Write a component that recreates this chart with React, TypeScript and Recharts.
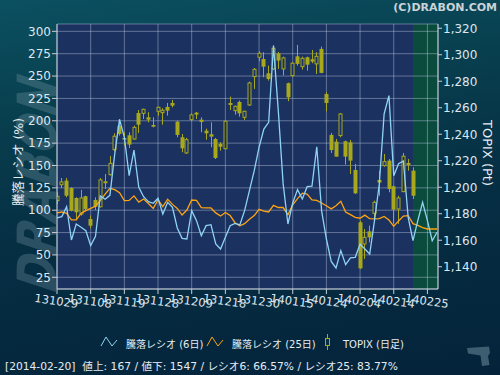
import React from 'react';
import { ComposedChart, XAxis, YAxis, CartesianGrid, Line, Bar } from 'recharts';

// trading days (YYMMDD), index = x position
const dates = [
  '131029','131030','131031','131101','131105','131106','131107','131108','131111','131112',
  '131113','131114','131115','131118','131119','131120','131121','131122','131125','131126',
  '131127','131128','131129','131202','131203','131204','131205','131206','131209','131210',
  '131211','131212','131213','131216','131217','131218','131219','131220','131224','131225',
  '131226','131227','131230','140106','140107','140108','140109','140110','140114','140115',
  '140116','140117','140120','140121','140122','140123','140124','140127','140128','140129',
  '140130','140131','140203','140204','140205','140206','140207','140210','140212','140213',
  '140214','140217','140218','140219','140220','140221','140224','140225','140226','140227',
];

// 騰落レシオ (6日) %
const ratio6 = [
  91.3, 92.8, 104.0, 66.7, 84.6, 80.9, 77.1, 60.4, 70.8, 115.9,
  112.2, 116.6, 162.8, 201.6, 181.5, 138.6, 167.3, 125.6, 115.1, 109.5,
  107.7, 113.3, 95.8, 108.8, 103.2, 80.1, 68.5, 67.8, 99.5, 88.3,
  71.5, 82.7, 83.8, 62.2, 56.6, 69.7, 82.7, 85.3, 83.5, 99.5,
  121.8, 144.2, 170.3, 190.8, 198.3, 284.0, 211.3, 130.0, 84.6, 108.0,
  123.0, 112.5, 126.3, 127.0, 171.0, 99.5, 67.8, 42.8, 35.4, 54.8,
  39.1, 46.6, 47.3, 62.0, 56.6, 51.0, 88.3, 129.3, 207.6, 228.1,
  138.6, 152.0, 155.0, 92.0, 65.9, 88.3, 108.8, 88.3, 65.9, 75.3,
];

// 騰落レシオ (25日) %
const ratio25 = [
  97.0, 98.0, 96.5, 89.1, 89.1, 96.5, 99.5, 102.0, 104.5, 111.0,
  118.0, 124.5, 123.0, 119.5, 110.7, 111.0, 116.0, 109.0, 112.5, 107.5,
  102.0, 111.5, 104.0, 112.3, 106.5, 102.0, 94.6, 100.2, 111.4, 111.0,
  103.0, 102.5, 102.5, 97.0, 93.5, 97.5, 94.0, 86.0, 82.5, 85.0,
  90.0, 94.0, 101.0, 99.0, 98.0, 105.5, 103.0, 103.0, 95.0, 106.0,
  113.0, 119.0, 118.0, 111.5, 111.0, 108.0, 105.0, 101.5, 105.0, 110.0,
  98.0, 95.0, 92.0, 91.0, 94.5, 90.5, 90.2, 90.5, 93.0, 89.0,
  82.0, 88.0, 93.5, 94.0, 85.0, 83.0, 80.5, 79.0, 79.0, 79.0,
];

// TOPIX (日足)
const topixOpen = [
  1189.9, 1201.9, 1205.0, 1199.4, 1191.9, 1179.8, 1193.2, 1176.0, 1190.4, 1185.3,
  1204.5, 1209.5, 1228.4, 1246.2, 1237.2, 1239.2, 1236.4, 1256.0, 1255.8, 1252.8,
  1247.0, 1257.3, 1256.3, 1260.6, 1263.6, 1249.5, 1237.7, 1225.9, 1251.0, 1256.3,
  1251.0, 1242.7, 1240.0, 1236.4, 1232.7, 1229.1, 1263.6, 1257.8, 1264.4, 1252.8,
  1262.1, 1283.5, 1298.1, 1296.8, 1286.0, 1289.3, 1301.1, 1289.3, 1278.5, 1284.3,
  1298.8, 1291.0, 1298.1, 1296.6, 1293.1, 1304.4, 1270.4, 1239.5, 1234.4, 1239.0,
  1234.7, 1233.9, 1213.0, 1173.5, 1157.2, 1166.7, 1180.3, 1205.5, 1216.3, 1220.1,
  1200.7, 1183.6, 1196.7, 1218.3, 1212.5,
];
const topixHigh = [
  1196.2, 1207.0, 1207.0, 1200.0, 1192.4, 1198.0, 1193.6, 1178.6, 1192.4, 1207.0,
  1210.0, 1223.6, 1240.7, 1251.3, 1241.5, 1241.5, 1246.5, 1258.3, 1259.3, 1256.6,
  1252.8, 1260.8, 1259.6, 1263.6, 1265.9, 1250.3, 1240.2, 1237.2, 1255.8, 1256.8,
  1252.8, 1244.2, 1249.0, 1237.2, 1233.9, 1250.3, 1268.4, 1261.6, 1265.4, 1257.8,
  1279.7, 1290.0, 1302.6, 1301.9, 1291.8, 1306.9, 1302.1, 1298.6, 1279.0, 1294.3,
  1307.4, 1298.6, 1298.6, 1303.6, 1301.9, 1306.1, 1271.7, 1241.0, 1236.4, 1256.0,
  1235.2, 1235.7, 1217.6, 1174.8, 1168.5, 1171.0, 1189.9, 1212.5, 1225.1, 1221.3,
  1201.2, 1193.6, 1225.9, 1221.3, 1215.0,
];
const topixLow = [
  1187.4, 1199.4, 1192.4, 1181.8, 1175.3, 1178.6, 1182.3, 1169.2, 1182.8, 1184.8,
  1198.7, 1208.8, 1227.1, 1239.0, 1231.4, 1229.6, 1235.7, 1241.0, 1251.5, 1249.0,
  1245.2, 1254.0, 1247.2, 1254.0, 1260.3, 1237.7, 1226.4, 1225.1, 1249.8, 1251.5,
  1241.5, 1235.9, 1230.2, 1221.3, 1227.6, 1228.6, 1258.3, 1254.8, 1253.3, 1250.8,
  1261.3, 1274.2, 1295.1, 1283.0, 1280.5, 1288.5, 1289.3, 1284.3, 1264.9, 1283.5,
  1291.8, 1288.8, 1288.0, 1293.6, 1285.5, 1286.0, 1257.3, 1225.9, 1223.1, 1237.7,
  1217.1, 1210.0, 1194.9, 1138.3, 1145.9, 1158.4, 1174.8, 1193.6, 1215.5, 1196.2,
  1172.3, 1172.3, 1196.2, 1212.5, 1191.1,
];
const topixClose = [
  1193.2, 1204.0, 1193.6, 1182.3, 1181.1, 1191.9, 1183.6, 1171.0, 1185.3, 1205.5,
  1203.0, 1218.0, 1238.5, 1240.2, 1235.9, 1232.2, 1245.2, 1247.2, 1258.8, 1251.0,
  1245.7, 1260.3, 1258.1, 1257.8, 1261.6, 1239.5, 1229.4, 1235.9, 1254.6, 1254.8,
  1249.3, 1240.7, 1238.2, 1222.1, 1230.6, 1249.8, 1262.1, 1261.1, 1255.8, 1257.3,
  1278.7, 1289.0, 1301.1, 1291.0, 1281.7, 1304.9, 1295.6, 1297.6, 1267.9, 1293.6,
  1293.1, 1297.3, 1292.5, 1294.8, 1298.8, 1286.3, 1263.6, 1228.1, 1223.1, 1255.3,
  1223.1, 1220.1, 1195.4, 1138.8, 1162.2, 1162.2, 1188.6, 1203.5, 1219.3, 1198.7,
  1183.1, 1191.9, 1223.4, 1216.8, 1193.6,
];

const leftTicks = [25, 50, 75, 100, 125, 150, 175, 200, 225, 250, 275, 300];
const rightTicks = [1140, 1160, 1180, 1200, 1220, 1240, 1260, 1280, 1300, 1320];
const xTicks = [0, 7, 14, 21, 28, 35, 42, 49, 56, 63, 70, 77];
const lastCandle = topixOpen.length - 1;
const X_MAX = 79.2;

const data = dates.map((d, i) => ({
  i,
  d,
  r6: ratio6[i],
  r25: ratio25[i],
  o: topixOpen[i],
  h: topixHigh[i],
  l: topixLow[i],
  c: topixClose[i],
  range: i <= lastCandle ? [topixLow[i], topixHigh[i]] : null,
}));

const FONT = '"DejaVu Sans", "Noto Sans CJK JP", sans-serif';
const CANDLE = '#a8a81c';
const BLUE = '#8fd3f5';
const ORANGE = '#ffa30f';
const GRID = 'rgba(200,210,230,0.42)';
const PLOT_BG = '#1b3160';
const GREEN_BG = '#0a4b3d';

const Candle = (props: any) => {
  const { x, y, width, height, payload } = props;
  if (!payload || payload.o == null || x == null) return null;
  const top = Math.min(y, y + height);
  const bot = Math.max(y, y + height);
  const span = payload.h - payload.l;
  const k = span > 0 ? (bot - top) / span : 0;
  const yO = top + (payload.h - payload.o) * k;
  const yC = top + (payload.h - payload.c) * k;
  const cx = Math.round(x + width / 2) + 0.5;
  const bTop = Math.min(yO, yC);
  const bH = Math.max(Math.abs(yO - yC), 1.5);
  const up = payload.c > payload.o;
  return (
    <g>
      <line x1={cx} x2={cx} y1={top} y2={bot} stroke={CANDLE} strokeWidth={1} />
      {up ? (
        <rect x={cx - 1.5} y={bTop} width={3} height={bH} fill={PLOT_BG} stroke={CANDLE} strokeWidth={1} />
      ) : (
        <rect x={cx - 2} y={bTop} width={4} height={bH} fill={CANDLE} />
      )}
    </g>
  );
};

const XTick = (props: any) => {
  const { x, y, payload } = props;
  const label = dates[payload.value] ?? '';
  return (
    <g transform={`translate(${x},${y})`}>
      <text x={0} y={0} dy={9} transform="rotate(8)" textAnchor="middle" fill="#dfe6ee" fontSize={11.5} fontFamily={FONT}>
        {label}
      </text>
    </g>
  );
};

const fmt = (v: number) => v.toLocaleString('en-US');

// map an index on the x axis to a pixel, via the axis scale when available
const toPx = (p: any, v: number): number => {
  try {
    const s = p?.xAxis?.scale;
    if (typeof s === 'function') {
      const r = s(v);
      if (Number.isFinite(r)) return r;
    }
    if (s && typeof s.map === 'function') {
      const r = s.map(v);
      if (Number.isFinite(r)) return r;
    }
  } catch (e) {
    /* fall through */
  }
  const o = p?.offset;
  const left = o && Number.isFinite(o.left) ? o.left : 57;
  const w = o && Number.isFinite(o.width) ? o.width : 381;
  return left + (w * v) / X_MAX;
};

// background stripes: plot colour up to the last candle, green after it
const bandGenerator = (p: any) => [Math.round(toPx(p, 0)), Math.round(toPx(p, lastCandle))];

export default function App() {
  return (
    <div
      style={{
        position: 'absolute',
        left: 0,
        top: 0,
        width: 500,
        height: 375,
        overflow: 'hidden',
        background: 'linear-gradient(172deg, #0b5061 0%, #08404f 25%, #062f44 55%, #04233a 100%)',
        fontFamily: FONT,
      }}
    >
      <div style={{ position: 'absolute', right: 3, top: 1, color: '#c9d3d8', fontSize: 11, fontWeight: 'bold' }}>
        (C)DRABON.COM
      </div>
      <div
        style={{
          position: 'absolute',
          left: 38,
          top: 183,
          transform: 'translate(-50%,-50%) rotate(-90deg) scale(0.82,1) skewX(-12deg)',
          color: 'rgba(130,160,172,0.3)',
          fontSize: 54,
          fontWeight: 'bold',
          fontStyle: 'italic',
          whiteSpace: 'nowrap',
          fontFamily: '"DejaVu Sans"',
          lineHeight: 1,
        }}
      >
        DRABON
      </div>
      <svg style={{ position: 'absolute', left: 0, top: 0 }} width={500} height={375}>
        <path d="M467,348 L489,346.5 L490,353 L488,356 L489.5,365 L482,366 L480.5,355.5 L468,353.5 Z" fill="rgba(110,140,158,0.55)" />
      </svg>
      <div
        style={{
          position: 'absolute',
          left: 17,
          top: 162,
          transform: 'translate(-50%,-50%) rotate(-90deg)',
          color: '#e6ecf2',
          fontSize: 12.5,
          whiteSpace: 'nowrap',
        }}
      >
        騰落レシオ (%)
      </div>
      <div
        style={{
          position: 'absolute',
          left: 487,
          top: 153,
          transform: 'translate(-50%,-50%) rotate(90deg)',
          color: '#e6ecf2',
          fontSize: 13,
          whiteSpace: 'nowrap',
        }}
      >
        TOPIX (Pt)
      </div>
      <ComposedChart width={500} height={375} data={data} margin={{ top: 24, right: 0, bottom: 56, left: 0 }} style={{ position: 'absolute', left: 0, top: 0 }}>
        <CartesianGrid
          yAxisId="left"
          horizontal={false}
          vertical
          stroke="none"
          strokeOpacity={0}
          verticalFill={[PLOT_BG, GREEN_BG]}
          fillOpacity={1}
          verticalCoordinatesGenerator={bandGenerator}
        />
        <CartesianGrid yAxisId="left" stroke={GRID} strokeWidth={1} />
        <XAxis
          dataKey="i"
          type="number"
          domain={[0, X_MAX]}
          ticks={xTicks}
          interval={0}
          allowDataOverflow
          height={30}
          tick={<XTick />}
          tickSize={5}
          stroke="#c7ced8"
          tickLine={{ stroke: '#c7ced8' }}
        />
        <YAxis
          yAxisId="left"
          orientation="left"
          width={57}
          domain={[11.9, 308.2]}
          ticks={leftTicks}
          interval={0}
          allowDataOverflow
          tickSize={5}
          tickMargin={1}
          stroke="#c7ced8"
          tick={{ fill: '#dfe6ee', fontSize: 12, fontFamily: FONT }}
        />
        <YAxis
          yAxisId="right"
          orientation="right"
          width={62}
          domain={[1123.2, 1323.2]}
          ticks={rightTicks}
          interval={0}
          allowDataOverflow
          tickSize={4}
          tickMargin={1}
          tickFormatter={fmt}
          stroke="#c7ced8"
          tick={{ fill: '#dfe6ee', fontSize: 12, fontFamily: FONT }}
        />
        <Bar yAxisId="right" dataKey="range" barSize={4} shape={<Candle />} isAnimationActive={false} />
        <Line yAxisId="left" dataKey="r25" stroke={ORANGE} strokeWidth={1.3} dot={false} activeDot={false} isAnimationActive={false} type="linear" />
        <Line yAxisId="left" dataKey="r6" stroke={BLUE} strokeWidth={1.3} dot={false} activeDot={false} isAnimationActive={false} type="linear" />
      </ComposedChart>

      {/* legend */}
      <div style={{ position: 'absolute', top: 334, left: 0, width: 500, height: 16, color: '#e6ecf2', fontSize: 10 }}>
        <svg style={{ position: 'absolute', left: 100, top: 2 }} width={18} height={11}>
          <polyline points="1,10 6,1 12,10 17,4" fill="none" stroke={BLUE} strokeWidth={1} />
        </svg>
        <span style={{ position: 'absolute', left: 126, top: 2, whiteSpace: 'nowrap' }}>騰落レシオ (6日)</span>
        <svg style={{ position: 'absolute', left: 206, top: 2 }} width={18} height={11}>
          <polyline points="1,10 6,1 12,10 17,4" fill="none" stroke={ORANGE} strokeWidth={1} />
        </svg>
        <span style={{ position: 'absolute', left: 232, top: 2, whiteSpace: 'nowrap' }}>騰落レシオ (25日)</span>
        <svg style={{ position: 'absolute', left: 322, top: 0 }} width={10} height={16}>
          <line x1={5.5} x2={5.5} y1={0} y2={16} stroke={CANDLE} strokeWidth={1} />
          <rect x={3.5} y={4.5} width={4} height={7} fill="#062f44" stroke={CANDLE} strokeWidth={1} />
        </svg>
        <span style={{ position: 'absolute', left: 343, top: 2, whiteSpace: 'nowrap' }}>TOPIX (日足)</span>
      </div>
      <div style={{ position: 'absolute', left: 5, top: 358, color: '#e6ecf2', fontSize: 10.7, whiteSpace: 'nowrap' }}>
        [2014-02-20]&nbsp; 値上: 167 / 値下: 1547 / レシオ6: 66.57% / レシオ25: 83.77%
      </div>
    </div>
  );
}
